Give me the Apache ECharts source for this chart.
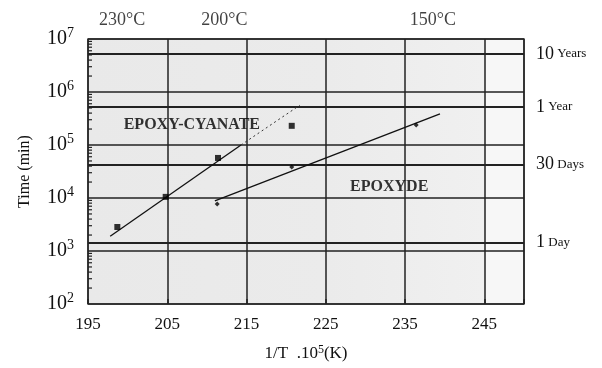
<!DOCTYPE html>
<html>
<head>
<meta charset="utf-8">
<script src="https://cdn.jsdelivr.net/npm/echarts@6/dist/echarts.min.js"></script>
<style>
  html, body { margin: 0; padding: 0; background: #fff; }
  #chart { width: 602px; height: 368px; }
</style>
</head>
<body>
<div id="chart"></div>
<script>
// Ageing time versus inverse temperature (Arrhenius plot)
const xTicks = [195, 205, 215, 225, 235, 245];

// Measured points: [1/T * 1e5 (K^-1), time (min)]
const cyanatePoints = [[198.7, 2840], [204.8, 10500], [211.4, 57000], [220.7, 230000]];
const epoxydePoints = [[211.3, 7700], [220.7, 38500], [236.4, 238000]];

// Fitted lines
const cyanateFit = [[197.8, 1900], [214.3, 100000]];
const cyanateExtrapolated = [[214.3, 100000], [221.7, 560000]];
const epoxydeFit = [[211.0, 8800], [239.4, 385000]];

// Temperature marks along the top edge
const tempX = [199.3, 212.2, 238.5];
const tempLabels = ['230°C', '200°C', '150°C'];

// Reference durations in minutes
const durationValues = [5256000, 525600, 43200, 1440];
const durationNum = ['10', '1', '30', '1'];
const durationUnit = ['Years', 'Year', 'Days', 'Day'];

// Curve names placed inside the plot
const curveNames = ['EPOXY-CYANATE', 'EPOXYDE'];
const curveNamePos = [[208.1, 238000], [233.0, 16100]];

const SERIF = '"Liberation Serif", "DejaVu Serif", serif';

// Minor tick positions on the log axis (2..9 x 10^n)
const minorTicks = [];
for (let e = 2; e < 7; e++) {
  for (let k = 2; k <= 9; k++) minorTicks.push(k * Math.pow(10, e));
}

const chart = echarts.init(document.getElementById('chart'), null, { renderer: 'canvas' });

// plot background: grey stipple tone, lighter towards the right, palest past 245
const plotBg = {
  type: 'linear', x: 0, y: 0, x2: 1, y2: 0,
  colorStops: [
    { offset: 0, color: '#e9e9e9' },
    { offset: 0.55, color: '#ebebeb' },
    { offset: 0.909, color: '#f0f0f0' },
    { offset: 0.909, color: '#f7f7f7' },
    { offset: 1, color: '#f7f7f7' }
  ]
};

const option = {
  backgroundColor: '#ffffff',
  animation: false,
  grid: {
    left: 88, right: 78, top: 39, bottom: 64,
    show: true, backgroundColor: plotBg,
    borderColor: '#444', borderWidth: 1.5
  },
  xAxis: {
    type: 'value', min: 195, max: 250, interval: 10,
    name: '{a|1/T  .10}{s|5}{a|(K)}',
    nameLocation: 'middle', nameGap: 40,
    nameTextStyle: {
      rich: {
        a: { fontFamily: SERIF, fontSize: 17, color: '#111' },
        s: { fontFamily: SERIF, fontSize: 12, color: '#111', verticalAlign: 'top', padding: [0, 0, 8, 0] }
      }
    },
    axisLine: { show: false },
    axisTick: { show: true, inside: true, length: 5, lineStyle: { color: '#222', width: 1.5 } },
    axisLabel: {
      fontFamily: SERIF, fontSize: 17, color: '#111', margin: 12,
      formatter: v => (xTicks.indexOf(v) >= 0 ? String(v) : '')
    },
    splitLine: { show: true, lineStyle: { color: '#222', width: 1.5 } }
  },
  yAxis: {
    type: 'log', min: 100, max: 1e7, logBase: 10,
    name: 'Time (min)', nameLocation: 'middle', nameGap: 55,
    nameTextStyle: { fontFamily: SERIF, fontSize: 16, color: '#111' },
    axisLine: { show: false },
    axisTick: { show: false },
    axisLabel: {
      margin: 14,
      formatter: v => '{b|10}{s|' + Math.round(Math.log10(v)) + '}',
      rich: {
        b: { fontFamily: SERIF, fontSize: 20, color: '#111' },
        s: { fontFamily: SERIF, fontSize: 14, color: '#111', verticalAlign: 'top', padding: [0, 0, 11, 0] }
      }
    },
    splitLine: { show: true, lineStyle: { color: '#222', width: 1.5 } }
  },
  series: [
    {
      // minor ticks along the left axis
      type: 'custom', silent: true,
      data: minorTicks.map(v => [195, v]),
      renderItem: (params, api) => {
        const p = api.coord([195, api.value(1)]);
        return {
          type: 'line',
          shape: { x1: p[0], y1: p[1], x2: p[0] + 4, y2: p[1] },
          style: { stroke: '#222', lineWidth: 1.2 }
        };
      },
      z: 5
    },
    {
      type: 'line', data: [], silent: true,
      markLine: {
        silent: true, symbol: 'none',
        lineStyle: { color: '#222', width: 1.8, type: 'solid' },
        label: {
          show: true, position: 'end', distance: 12,
          formatter: p => '{n|' + durationNum[p.dataIndex] + '} {u|' + durationUnit[p.dataIndex] + '}',
          rich: {
            n: { fontFamily: SERIF, fontSize: 18, color: '#111' },
            u: { fontFamily: SERIF, fontSize: 13, color: '#111' }
          }
        },
        data: durationValues.map(v => ({ yAxis: v }))
      }
    },
    {
      name: 'EPOXY-CYANATE fit', type: 'line', data: cyanateFit,
      symbol: 'none', lineStyle: { color: '#111', width: 1.3 }, z: 6
    },
    {
      name: 'EPOXY-CYANATE extrapolation', type: 'line', data: cyanateExtrapolated,
      symbol: 'none', lineStyle: { color: '#333', width: 1, type: [2, 3] }, z: 6
    },
    {
      name: 'EPOXYDE fit', type: 'line', data: epoxydeFit,
      symbol: 'none', lineStyle: { color: '#111', width: 1.3 }, z: 6
    },
    {
      name: 'EPOXY-CYANATE', type: 'scatter', data: cyanatePoints,
      symbol: 'rect', symbolSize: 6, itemStyle: { color: '#000' }, z: 7
    },
    {
      name: 'EPOXYDE', type: 'scatter', data: epoxydePoints,
      symbol: 'diamond', symbolSize: 5, itemStyle: { color: '#000' }, z: 7
    },
    {
      // curve names
      type: 'scatter', symbolSize: 0, silent: true, z: 8,
      data: curveNamePos.map((p, i) => ({ value: p, name: curveNames[i] })),
      label: {
        show: true, position: 'inside', formatter: p => p.name,
        fontFamily: SERIF, fontSize: 16, color: '#000', fontWeight: 'bold'
      }
    },
    {
      // temperature marks above the plot
      type: 'scatter', symbolSize: 0, silent: true, z: 8,
      data: tempX.map((x, i) => ({ value: [x, 1e7], name: tempLabels[i] })),
      label: {
        show: true, position: 'top', distance: 10, formatter: p => p.name,
        fontFamily: SERIF, fontSize: 18, color: '#111'
      }
    }
  ]
};

chart.setOption(option);
</script>
</body>
</html>
